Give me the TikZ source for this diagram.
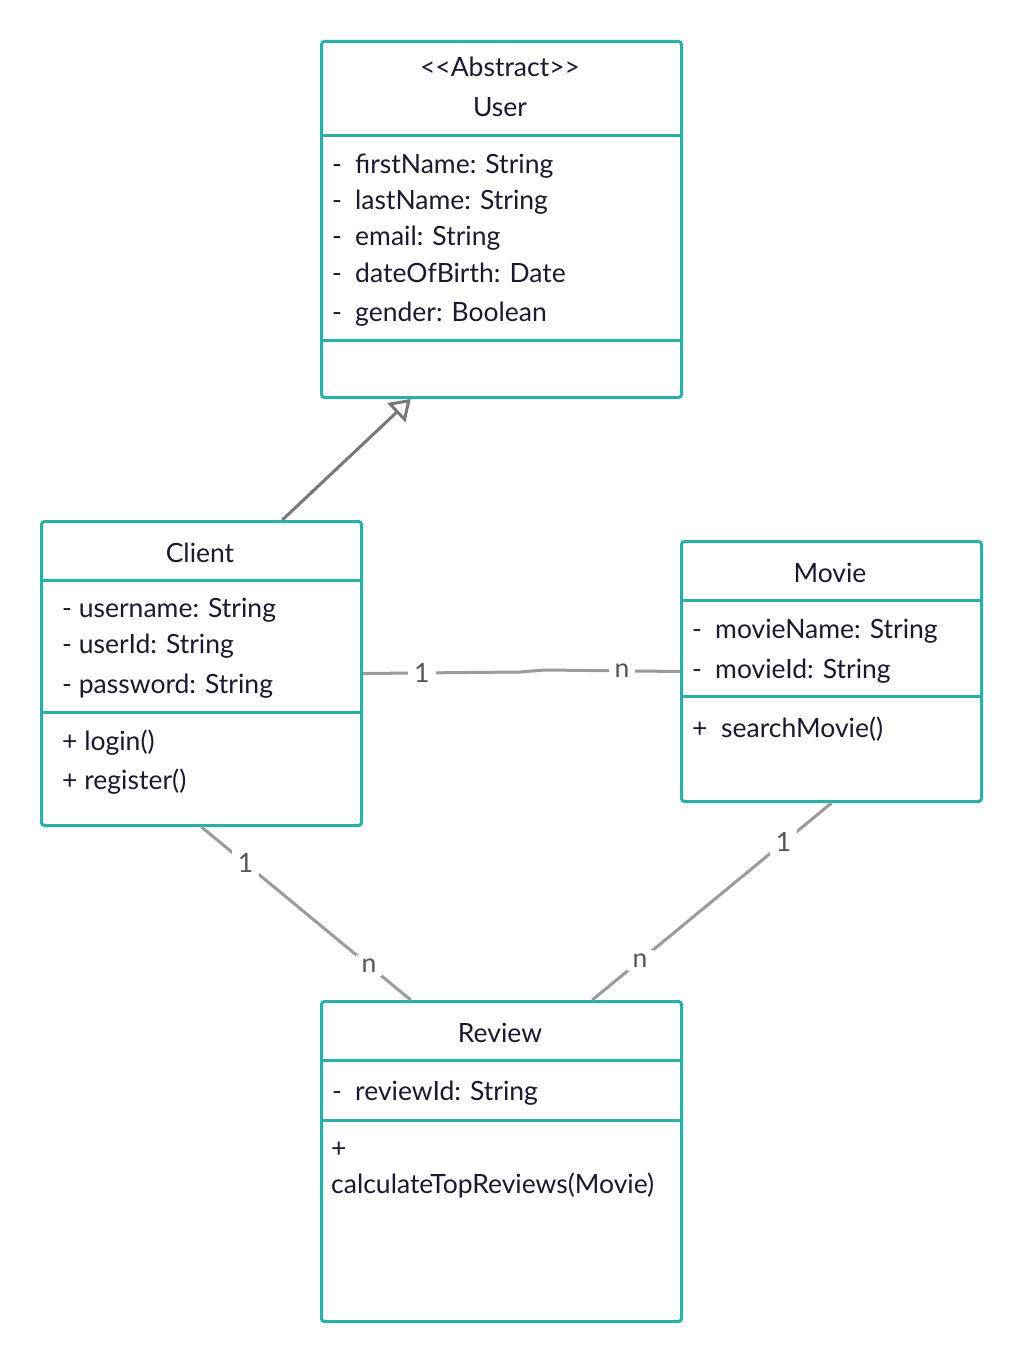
\documentclass[tikz,border=0pt]{standalone}
\usepackage{fontspec}
\setmainfont{Lato}
\usetikzlibrary{calc,arrows.meta}
\definecolor{boxteal}{HTML}{2AAFA9}
\definecolor{txtcol}{HTML}{1A1A2E}
\definecolor{assoc}{HTML}{9B9B9B}
\definecolor{genc}{HTML}{787878}
\definecolor{lblcol}{HTML}{555555}
\begin{document}
\begin{tikzpicture}[x=1bp,y=-1bp,
  umlbox/.style={draw=boxteal, line width=3bp, rounded corners=3bp, inner sep=0pt, anchor=north west, fill=white},
  divider/.style={draw=boxteal, line width=3bp},
  txt/.style={anchor=base west, inner sep=0pt, font=\fontsize{26.6}{31}\selectfont, text=txtcol},
  ttl/.style={anchor=base, inner sep=0pt, font=\fontsize{26.6}{31}\selectfont, text=txtcol},
  assocline/.style={draw=assoc, line width=3bp},
  genline/.style={draw=genc, line width=3bp},
  lbl/.style={fill=white, inner xsep=6bp, inner ysep=4bp, font=\fontsize{26.6}{31}\selectfont, text=lblcol},
]
\fill[white] (0,0) rectangle (1021,1360);
\useasboundingbox (0,0) rectangle (1021,1360);

% boxes
\node[umlbox, minimum width=360bp, minimum height=356bp] (user) at (320,40) {};
\node[umlbox, minimum width=320bp, minimum height=304bp] (client) at (40,520) {};
\node[umlbox, minimum width=300bp, minimum height=260bp] (movie) at (680,540) {};
\node[umlbox, minimum width=360bp, minimum height=320bp] (review) at (320,1000) {};

% dividers
\draw[divider] (320,136) -- (680,136);
\draw[divider] (320,340) -- (680,340);
\draw[divider] (40,580) -- (360,580);
\draw[divider] (40,712) -- (360,712);
\draw[divider] (680,600) -- (980,600);
\draw[divider] (680,696) -- (980,696);
\draw[divider] (320,1060) -- (680,1060);
\draw[divider] (320,1120) -- (680,1120);

% User
\node[ttl] (uA) at (500,77) {<{}<Abstract>{}>};
\node[ttl] (uT) at (500,117) {User};
\foreach \y/\t [count=\i] in {174/firstName: String, 210/lastName: String, 246/email: String, 282/dateOfBirth: Date, 321/gender: Boolean}{
  \node[txt] (ud\i) at (332,\y) {-};
  \node[txt] (ua\i) at (355,\y) {\t};
}

% Client
\node[ttl] (cT) at (200,562) {Client};
\node[txt] (ca1) at (62,617) {- username: String};
\node[txt] (ca2) at (62,653) {- userId: String};
\node[txt] (ca3) at (62,693) {- password: String};
\node[txt] (cm1) at (62,750) {+ login()};
\node[txt] (cm2) at (62,789) {+ register()};

% Movie
\node[ttl] (mT) at (830,582) {Movie};
\node[txt] (md1) at (692,638) {-};
\node[txt] (ma1) at (715,638) {movieName: String};
\node[txt] (md2) at (692,678) {-};
\node[txt] (ma2) at (715,678) {movieId: String};
\node[txt] (mp1) at (692,737) {+};
\node[txt] (mm1) at (721,737) {searchMovie()};

% Review
\node[ttl] (rT) at (500,1042) {Review};
\node[txt] (rd1) at (332,1100) {-};
\node[txt] (ra1) at (355,1100) {reviewId: String};
\node[txt] (rp1) at (331,1157) {+};
\node[txt] (rm1) at (331,1193) {calculateTopReviews(Movie)};

% connectors
\draw[genline, -{Triangle[open, length=20bp, width=26bp, fill=white]}]
  ($(client.north west)!0.75!(client.north east)$) -- ($(user.south west)!0.25!(user.south east)$);
\coordinate (k1) at (520,672);
\coordinate (k2) at (545,670);
\draw[assocline] (client.east) -- node[lbl,pos=0.375] (l1) {1} (k1) -- (k2) -- node[lbl,pos=0.57] (l2) {n} (movie.west);
\draw[assocline] (client.south) -- node[lbl,pos=0.21] (l3) {1} node[lbl,pos=0.8] (l4) {n} ($(review.north west)!0.25!(review.north east)$);
\draw[assocline] (movie.south) -- node[lbl,pos=0.2] (l5) {1} node[lbl,pos=0.8] (l6) {n} ($(review.north west)!0.75!(review.north east)$);
\end{tikzpicture}
\end{document}
